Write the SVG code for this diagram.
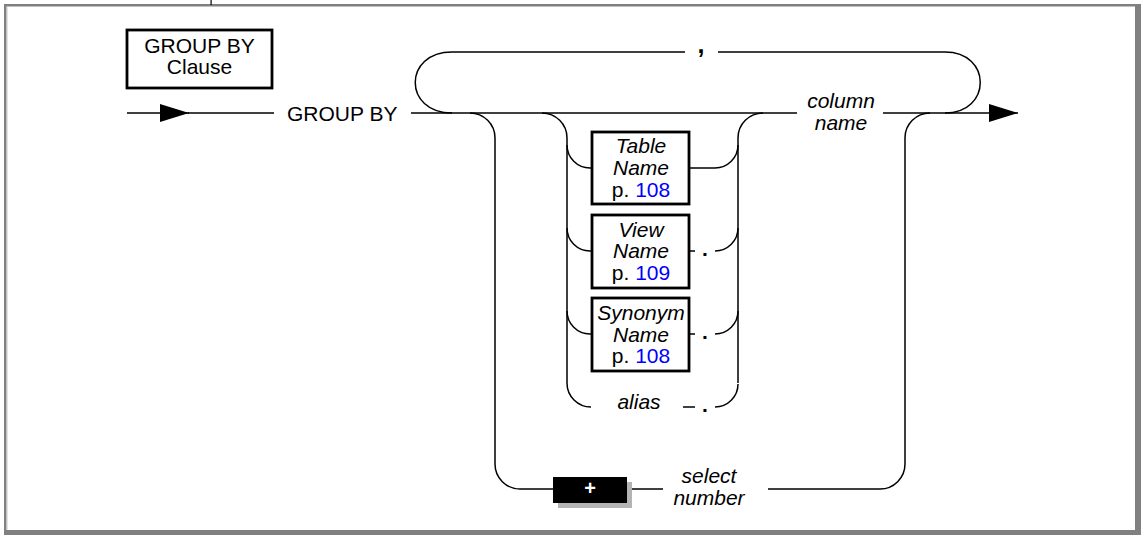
<svg xmlns="http://www.w3.org/2000/svg" width="1148" height="536" viewBox="0 0 1148 536">
  <style>
    .t { font-family: "Liberation Sans", Arial, sans-serif; font-size: 21px; fill: #000; }
    .i { font-style: italic; }
    .c { text-anchor: middle; }
    .lnk { fill: #0000ff; }
    .ln { fill: none; stroke: #000; stroke-width: 1.5; }
    .box { fill: #fff; stroke: #000; stroke-width: 2.8; }
    .frame { fill: #808080; }
  </style>
  <defs>
    <marker id="arr" markerUnits="userSpaceOnUse" markerWidth="30" markerHeight="18" refX="29" refY="9" orient="auto">
      <path d="M0,0 L29,9 L0,18 z" fill="#000"/>
    </marker>
  </defs>
  <rect width="1148" height="536" fill="#fff"/>
  <g id="frame">
    <rect class="frame" x="4" y="4" width="1137" height="2.5"/>
    <rect class="frame" x="4" y="4" width="2.5" height="531"/>
    <rect x="6.5" y="6.5" width="1" height="524" fill="#c8c8c8"/>
    <rect class="frame" x="1135" y="4" width="6" height="531"/>
    <rect class="frame" x="4" y="530" width="1137" height="5"/>
    <rect x="210.5" y="0" width="1.2" height="5" fill="#000"/>
  </g>

  <g id="connectors">
    <path class="ln" d="M127 113 H189" marker-end="url(#arr)"/>
    <path class="ln" d="M188 113 H274"/>
    <path class="ln" d="M411 113 H797"/>
    <path class="ln" d="M883 113 H1018" marker-end="url(#arr)"/>
    <!-- comma loop -->
    <path class="ln" d="M452 52 H685 M718 52 H945"/>
    <path class="ln" d="M452 52 C403 52 403 113 452 113"/>
    <path class="ln" d="M945 52 C992 52 992 113 945 113"/>
    <!-- outer select-number loop -->
    <path class="ln" d="M470 113 A25 25 0 0 1 495 138 V464 A25 25 0 0 0 520 489 H556"/>
    <path class="ln" d="M630 489 H663"/>
    <path class="ln" d="M768 489 H880 A25 25 0 0 0 905 464 V138 A25 25 0 0 1 930 113"/>
    <!-- inner qualifier rails -->
    <path class="ln" d="M542 113 A25 25 0 0 1 567 138 V383"/>
    <path class="ln" d="M738 383 V138 A25 25 0 0 1 763 113"/>
    <!-- table -->
    <path class="ln" d="M567 145 A23 23 0 0 0 590 168 H592"/>
    <path class="ln" d="M689 168 H715 A23 23 0 0 0 738 145"/>
    <!-- view -->
    <path class="ln" d="M567 228 A23 23 0 0 0 590 251 H592"/>
    <path class="ln" d="M689 251 H695"/>
    <path class="ln" d="M715 251 A23 23 0 0 0 738 228"/>
    <!-- synonym -->
    <path class="ln" d="M567 311 A23 23 0 0 0 590 334 H592"/>
    <path class="ln" d="M689 334 H695"/>
    <path class="ln" d="M715 334 A23 23 0 0 0 738 311"/>
    <!-- alias -->
    <path class="ln" d="M567 383 A24 24 0 0 0 591 407"/>
    <path class="ln" d="M683 407 H695"/>
    <path class="ln" d="M715 407 A23 23 0 0 0 738 384"/>
  </g>

  <g id="title">
    <rect class="box" x="127" y="30" width="145" height="58"/>
    <text class="t c" x="199.5" y="53">GROUP BY</text>
    <text class="t c" x="199.5" y="74">Clause</text>
  </g>

  <g id="kw-groupby">
    <text class="t" x="287" y="120.5">GROUP BY</text>
  </g>

  <g id="comma">
    <text class="t c" x="701" y="53" style="font-size:25px;font-weight:bold">,</text>
  </g>

  <g id="column-name">
    <text class="t i c" x="841" y="108">column</text>
    <text class="t i c" x="841" y="130">name</text>
  </g>

  <g id="table-name">
    <rect class="box" x="592" y="132" width="97" height="72"/>
    <text class="t i c" x="641" y="153">Table</text>
    <text class="t i c" x="641" y="175">Name</text>
    <text class="t c" x="641" y="197">p. <tspan class="lnk">108</tspan></text>
  </g>

  <g id="view-name">
    <rect class="box" x="592" y="215" width="97" height="73"/>
    <text class="t i c" x="641" y="237">View</text>
    <text class="t i c" x="641" y="258">Name</text>
    <text class="t c" x="641" y="280">p. <tspan class="lnk">109</tspan></text>
    <text class="t c" x="705" y="256" style="font-weight:bold">.</text>
  </g>

  <g id="synonym-name">
    <rect class="box" x="592" y="298" width="97" height="73"/>
    <text class="t i c" x="641" y="320">Synonym</text>
    <text class="t i c" x="641" y="342">Name</text>
    <text class="t c" x="641" y="363">p. <tspan class="lnk">108</tspan></text>
    <text class="t c" x="705" y="339" style="font-weight:bold">.</text>
  </g>

  <g id="alias">
    <text class="t i c" x="639" y="409">alias</text>
    <text class="t c" x="705" y="412" style="font-weight:bold">.</text>
  </g>

  <g id="plus">
    <rect x="558" y="482" width="74" height="26" fill="#b4b4b4"/>
    <rect x="553" y="477" width="74" height="26" fill="#000"/>
    <text class="t c" x="590" y="495" style="font-size:20px;font-weight:bold;fill:#fff">+</text>
  </g>

  <g id="select-number">
    <text class="t i c" x="709" y="483">select</text>
    <text class="t i c" x="709" y="505">number</text>
  </g>
</svg>
